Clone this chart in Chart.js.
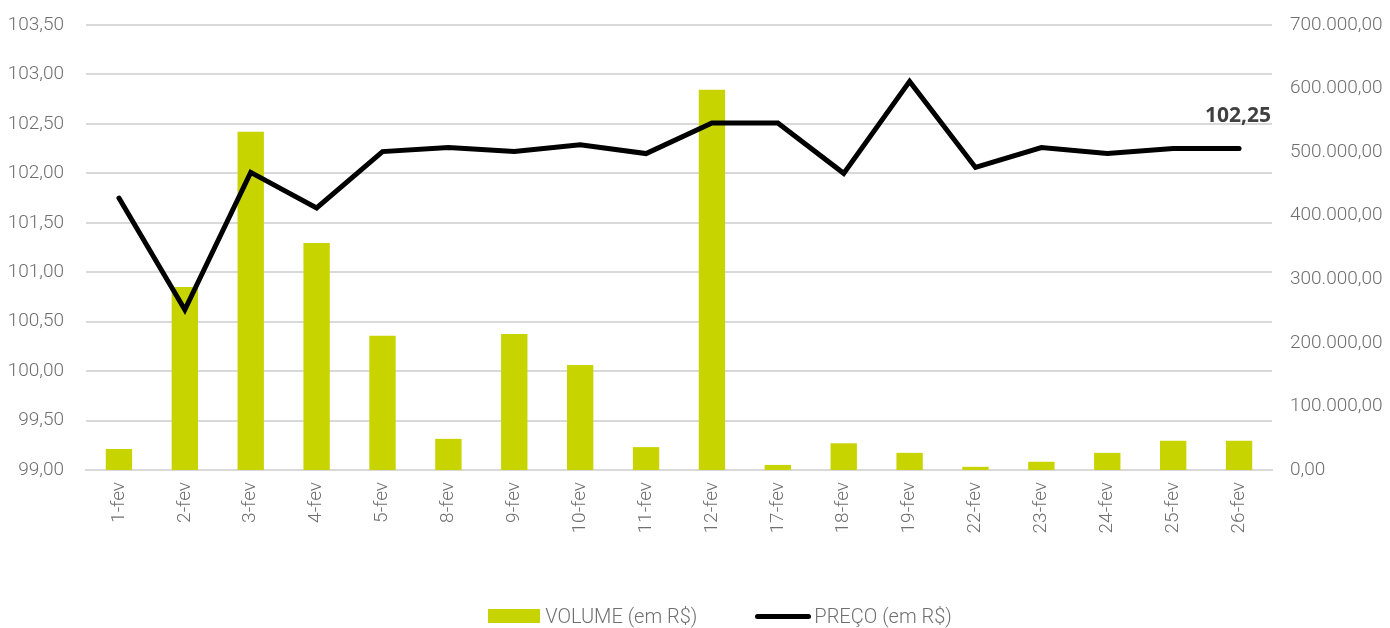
<!DOCTYPE html>
<html><head><meta charset="utf-8">
<script src="https://cdn.jsdelivr.net/npm/chart.js@4.4.1/dist/chart.umd.min.js"></script>
<style>
html,body{margin:0;padding:0;background:#fff;}
#wrap{position:relative;width:1390px;height:628px;}
#legend{position:absolute;left:0;top:604px;width:1390px;box-sizing:border-box;padding-left:50px;display:flex;justify-content:center;align-items:center;font-family:'Roboto',sans-serif;font-weight:300;font-size:20px;color:#707070;}
.item{display:flex;align-items:center;margin:0 29px;}
.box{width:52px;height:14px;background:#c8d400;margin-right:5px;}
.ln{width:56px;height:5px;border-radius:3px;background:#000;margin-right:3px;}
</style></head>
<body><div id="wrap"><canvas id="c" width="1390" height="628"></canvas>
<div id="legend"><div class="item"><span class="box"></span><span>VOLUME (em R$)</span></div><div class="item"><span class="ln"></span><span>PREÇO (em R$)</span></div></div></div>
<script>
const categories = ['1-fev','2-fev','3-fev','4-fev','5-fev','8-fev','9-fev','10-fev','11-fev','12-fev','17-fev','18-fev','19-fev','22-fev','23-fev','24-fev','25-fev','26-fev'];
const volume = [33000,288000,532000,357000,211000,49000,214000,165000,36000,598000,8000,42000,27000,5000,13000,27000,46000,46000];
const preco = [101.75,100.62,102.01,101.65,102.22,102.26,102.22,102.29,102.20,102.51,102.51,102.00,102.93,102.06,102.26,102.20,102.25,102.25];
const lastLabel = '102,25';

function fmtBR(v){
  const neg = v<0; v=Math.abs(v);
  let s = v.toFixed(2); let [i,d] = s.split('.');
  i = i.replace(/\B(?=(\d{3})+(?!\d))/g,'.');
  return (neg?'-':'')+i+','+d;
}
const tickFont = {family:"'Roboto',sans-serif", size:19, weight:'300'};
const tickColor = '#6f6f6f';

const lastLabelPlugin = {
  id:'lastLabel',
  afterDatasetsDraw(chart){
    const meta = chart.getDatasetMeta(1);
    const p = meta.data[meta.data.length-1];
    const ctx = chart.ctx; ctx.save();
    ctx.font = "bold 21px 'Open Sans','Liberation Sans',sans-serif";
    ctx.fillStyle = '#404040'; ctx.textAlign='center'; ctx.textBaseline='bottom';
    ctx.fillText(lastLabel, p.x - 1, p.y - 22);
    ctx.restore();
  }
};

new Chart(document.getElementById('c'), {
  data:{
    labels: categories,
    datasets:[
      {type:'bar', label:'VOLUME (em R$)', data: volume, yAxisID:'y1', backgroundColor:'#c8d400', barPercentage:0.4, categoryPercentage:1, order:2},
      {type:'line', label:'PREÇO (em R$)', data: preco, yAxisID:'y', borderColor:'#000', borderWidth:5, pointRadius:0, tension:0, borderCapStyle:'round', borderJoinStyle:'miter', order:1}
    ]
  },
  options:{
    responsive:false, animation:false,
    layout:{padding:{top:25,bottom:0,left:0,right:0}},
    plugins:{legend:{display:false}, tooltip:{enabled:false}},
    scales:{
      x:{
        grid:{display:false, drawTicks:false},
        border:{display:true,color:'#d9d9d9',width:2},
        ticks:{font:tickFont,color:tickColor,maxRotation:90,minRotation:90,padding:12,autoSkip:false},
        afterFit(s){ s.height = 158; s.paddingLeft = 0; s.paddingRight = 0; }
      },
      y:{
        position:'left', min:99, max:103.5,
        ticks:{stepSize:0.5,font:tickFont,color:tickColor,padding:22,callback:v=>fmtBR(v)},
        grid:{color:'#d9d9d9',lineWidth:2,drawTicks:false},
        border:{display:false},
        afterFit(s){ s.width = 86; s.paddingTop = 0; s.paddingBottom = 0; }
      },
      y1:{
        position:'right', min:0, max:700000,
        ticks:{stepSize:100000,font:tickFont,color:tickColor,padding:18,callback:v=>fmtBR(v)},
        grid:{display:false,drawTicks:false},
        border:{display:false},
        afterFit(s){ s.width = 118; s.paddingTop = 0; s.paddingBottom = 0; }
      }
    }
  },
  plugins:[lastLabelPlugin]
});
</script></body></html>
